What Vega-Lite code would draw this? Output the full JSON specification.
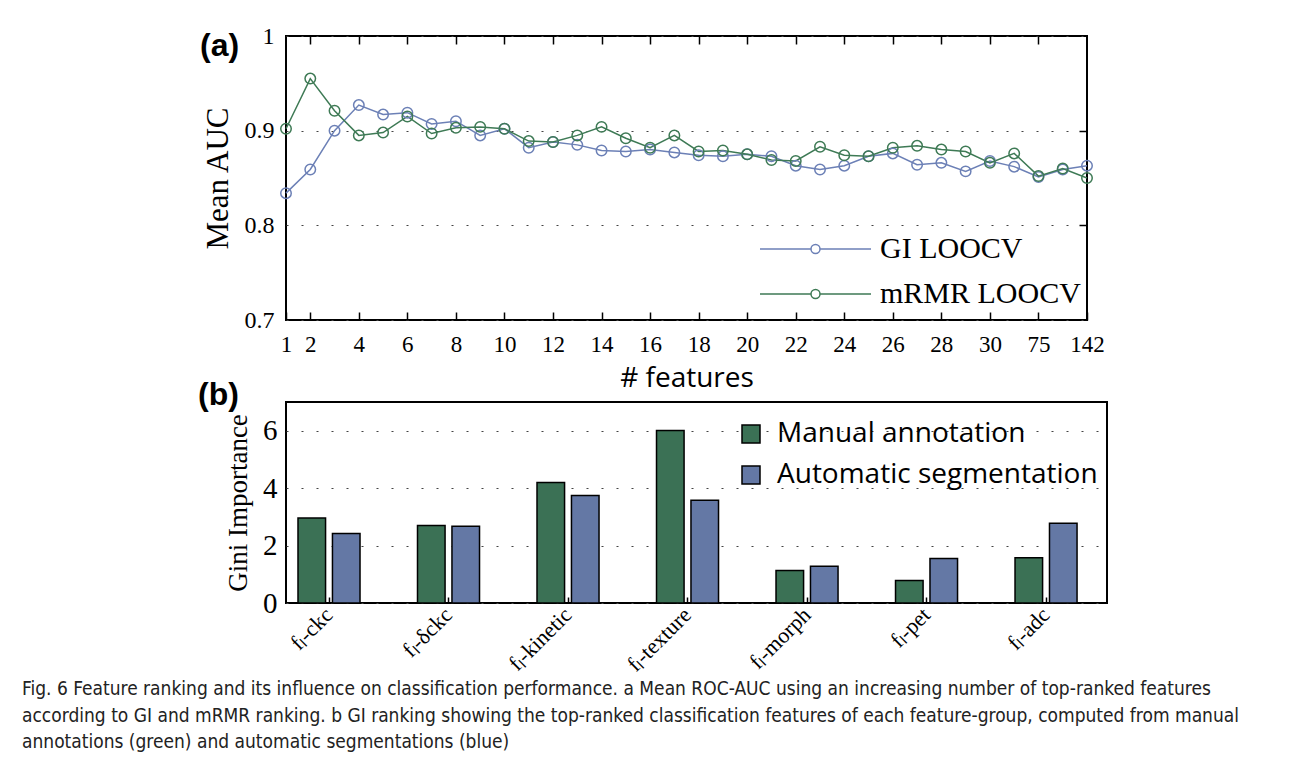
{
  "$schema": "https://vega.github.io/schema/vega-lite/v6.json",
  "background": "white",
  "padding": {"left": 22, "top": 23, "right": 10, "bottom": 10},
  "columns": 1,
  "align": "none",
  "spacing": -15,
  "resolve": {"scale": {"color": "independent"}, "legend": {"color": "independent"}},
  "title": {
    "text": [
      "Fig. 6 Feature ranking and its influence on classification performance. a Mean ROC-AUC using an increasing number of top-ranked features",
      "according to GI and mRMR ranking. b GI ranking showing the top-ranked classification features of each feature-group, computed from manual",
      "annotations (green) and automatic segmentations (blue)"
    ],
    "orient": "bottom",
    "anchor": "start",
    "frame": "bounds",
    "dx": -175,
    "offset": 4,
    "font": "DejaVu Sans Condensed, sans-serif",
    "fontSize": 19,
    "fontWeight": "normal",
    "lineHeight": 26.5,
    "color": "#222222"
  },
  "datasets": {
    "auc": [
      {"idx": 1, "method": "GI LOOCV", "auc": 0.834},
      {"idx": 2, "method": "GI LOOCV", "auc": 0.859},
      {"idx": 3, "method": "GI LOOCV", "auc": 0.900},
      {"idx": 4, "method": "GI LOOCV", "auc": 0.927},
      {"idx": 5, "method": "GI LOOCV", "auc": 0.917},
      {"idx": 6, "method": "GI LOOCV", "auc": 0.919},
      {"idx": 7, "method": "GI LOOCV", "auc": 0.907},
      {"idx": 8, "method": "GI LOOCV", "auc": 0.910},
      {"idx": 9, "method": "GI LOOCV", "auc": 0.895},
      {"idx": 10, "method": "GI LOOCV", "auc": 0.902},
      {"idx": 11, "method": "GI LOOCV", "auc": 0.882},
      {"idx": 12, "method": "GI LOOCV", "auc": 0.888},
      {"idx": 13, "method": "GI LOOCV", "auc": 0.885},
      {"idx": 14, "method": "GI LOOCV", "auc": 0.879},
      {"idx": 15, "method": "GI LOOCV", "auc": 0.878},
      {"idx": 16, "method": "GI LOOCV", "auc": 0.880},
      {"idx": 17, "method": "GI LOOCV", "auc": 0.877},
      {"idx": 18, "method": "GI LOOCV", "auc": 0.874},
      {"idx": 19, "method": "GI LOOCV", "auc": 0.873},
      {"idx": 20, "method": "GI LOOCV", "auc": 0.875},
      {"idx": 21, "method": "GI LOOCV", "auc": 0.873},
      {"idx": 22, "method": "GI LOOCV", "auc": 0.863},
      {"idx": 23, "method": "GI LOOCV", "auc": 0.859},
      {"idx": 24, "method": "GI LOOCV", "auc": 0.863},
      {"idx": 25, "method": "GI LOOCV", "auc": 0.873},
      {"idx": 26, "method": "GI LOOCV", "auc": 0.876},
      {"idx": 27, "method": "GI LOOCV", "auc": 0.864},
      {"idx": 28, "method": "GI LOOCV", "auc": 0.866},
      {"idx": 29, "method": "GI LOOCV", "auc": 0.857},
      {"idx": 30, "method": "GI LOOCV", "auc": 0.868},
      {"idx": 31, "method": "GI LOOCV", "auc": 0.862},
      {"idx": 32, "method": "GI LOOCV", "auc": 0.851},
      {"idx": 33, "method": "GI LOOCV", "auc": 0.859},
      {"idx": 34, "method": "GI LOOCV", "auc": 0.863},
      {"idx": 1, "method": "mRMR LOOCV", "auc": 0.902},
      {"idx": 2, "method": "mRMR LOOCV", "auc": 0.955},
      {"idx": 3, "method": "mRMR LOOCV", "auc": 0.921},
      {"idx": 4, "method": "mRMR LOOCV", "auc": 0.895},
      {"idx": 5, "method": "mRMR LOOCV", "auc": 0.898},
      {"idx": 6, "method": "mRMR LOOCV", "auc": 0.915},
      {"idx": 7, "method": "mRMR LOOCV", "auc": 0.897},
      {"idx": 8, "method": "mRMR LOOCV", "auc": 0.903},
      {"idx": 9, "method": "mRMR LOOCV", "auc": 0.904},
      {"idx": 10, "method": "mRMR LOOCV", "auc": 0.902},
      {"idx": 11, "method": "mRMR LOOCV", "auc": 0.889},
      {"idx": 12, "method": "mRMR LOOCV", "auc": 0.888},
      {"idx": 13, "method": "mRMR LOOCV", "auc": 0.895},
      {"idx": 14, "method": "mRMR LOOCV", "auc": 0.904},
      {"idx": 15, "method": "mRMR LOOCV", "auc": 0.892},
      {"idx": 16, "method": "mRMR LOOCV", "auc": 0.882},
      {"idx": 17, "method": "mRMR LOOCV", "auc": 0.895},
      {"idx": 18, "method": "mRMR LOOCV", "auc": 0.878},
      {"idx": 19, "method": "mRMR LOOCV", "auc": 0.879},
      {"idx": 20, "method": "mRMR LOOCV", "auc": 0.875},
      {"idx": 21, "method": "mRMR LOOCV", "auc": 0.869},
      {"idx": 22, "method": "mRMR LOOCV", "auc": 0.868},
      {"idx": 23, "method": "mRMR LOOCV", "auc": 0.883},
      {"idx": 24, "method": "mRMR LOOCV", "auc": 0.874},
      {"idx": 25, "method": "mRMR LOOCV", "auc": 0.873},
      {"idx": 26, "method": "mRMR LOOCV", "auc": 0.882},
      {"idx": 27, "method": "mRMR LOOCV", "auc": 0.884},
      {"idx": 28, "method": "mRMR LOOCV", "auc": 0.880},
      {"idx": 29, "method": "mRMR LOOCV", "auc": 0.878},
      {"idx": 30, "method": "mRMR LOOCV", "auc": 0.866},
      {"idx": 31, "method": "mRMR LOOCV", "auc": 0.876},
      {"idx": 32, "method": "mRMR LOOCV", "auc": 0.852},
      {"idx": 33, "method": "mRMR LOOCV", "auc": 0.860},
      {"idx": 34, "method": "mRMR LOOCV", "auc": 0.850}
    ],
    "gini": [
      {"feature": "fₗ-ckc", "source": "Manual annotation", "value": 2.96},
      {"feature": "fₗ-ckc", "source": "Automatic segmentation", "value": 2.42},
      {"feature": "fₗ-δckc", "source": "Manual annotation", "value": 2.70},
      {"feature": "fₗ-δckc", "source": "Automatic segmentation", "value": 2.67},
      {"feature": "fₗ-kinetic", "source": "Manual annotation", "value": 4.20},
      {"feature": "fₗ-kinetic", "source": "Automatic segmentation", "value": 3.74},
      {"feature": "fₗ-texture", "source": "Manual annotation", "value": 6.01},
      {"feature": "fₗ-texture", "source": "Automatic segmentation", "value": 3.58},
      {"feature": "fₗ-morph", "source": "Manual annotation", "value": 1.13},
      {"feature": "fₗ-morph", "source": "Automatic segmentation", "value": 1.28},
      {"feature": "fₗ-pet", "source": "Manual annotation", "value": 0.78},
      {"feature": "fₗ-pet", "source": "Automatic segmentation", "value": 1.55},
      {"feature": "fₗ-adc", "source": "Manual annotation", "value": 1.58},
      {"feature": "fₗ-adc", "source": "Automatic segmentation", "value": 2.78}
    ]
  },
  "config": {
    "view": {"stroke": "black", "strokeWidth": 2},
    "axis": {
      "labelColor": "black",
      "tickColor": "black",
      "titleColor": "black",
      "labelFont": "Liberation Serif",
      "titleFont": "Liberation Serif",
      "titleFontWeight": "normal",
      "gridColor": "#444444",
      "gridDash": [2, 13],
      "gridWidth": 1.2,
      "tickWidth": 1.5,
      "domain": false,
      "labelFlush": false,
      "labelOverlap": false
    },
    "legend": {"labelColor": "black", "padding": 0, "labelLimit": 0}
  },
  "concat": [
    {
      "width": 801,
      "height": 284,
      "title": {"text": "(a)", "anchor": "start", "frame": "group", "dx": -86, "dy": 39, "offset": 0, "font": "Liberation Sans", "fontWeight": "bold", "fontSize": 32, "color": "black"},
      "data": {"name": "auc"},
      "layer": [
        {
          "mark": {"type": "line", "strokeWidth": 1.5},
          "encoding": {
            "x": {
              "field": "idx", "type": "quantitative",
              "scale": {"domain": [1, 34], "nice": false, "zero": false},
              "axis": {
                "orient": "bottom",
                "values": [1, 2, 4, 6, 8, 10, 12, 14, 16, 18, 20, 22, 24, 26, 28, 30, 32, 34],
                "labelExpr": "datum.value == 32 ? '75' : datum.value == 34 ? '142' : datum.label",
                "labelFontSize": 23,
                "tickSize": -8,
                "labelPadding": 21,
                "grid": false,
                "title": "# features",
                "titleFont": "Open Sans",
                "titleFontSize": 28,
                "titlePadding": 8
              }
            },
            "y": {
              "field": "auc", "type": "quantitative",
              "scale": {"domain": [0.7, 1.0], "nice": false, "zero": false},
              "axis": {
                "orient": "left",
                "values": [0.7, 0.8, 0.9, 1.0],
                "format": "~g",
                "labelFontSize": 24,
                "ticks": false,
                "labelPadding": 12,
                "grid": true,
                "title": "Mean AUC",
                "titleFontSize": 31,
                "titlePadding": 10
              }
            },
            "color": {
              "field": "method", "type": "nominal",
              "scale": {"domain": ["GI LOOCV", "mRMR LOOCV"], "range": ["#6c80b6", "#3e7a55"]},
              "legend": {
                "orient": "none",
                "legendX": 560,
                "legendY": 198,
                "title": null,
                "labelFont": "Liberation Serif",
                "labelFontSize": 30,
                "symbolType": "M-10.1,0H-5M-4.1,0H1M-4.1,0A0.45,0.45,0,1,1,-5,0A0.45,0.45,0,1,1,-4.1,0",
                "symbolSize": 400,
                "symbolStrokeWidth": 1.5,
                "symbolFillColor": "transparent",
                "labelOffset": 4,
                "rowPadding": 15
              }
            }
          }
        },
        {
          "mark": {"type": "point", "filled": false, "size": 110, "strokeWidth": 1.5, "opacity": 1},
          "encoding": {
            "x": {
              "field": "idx", "type": "quantitative",
              "axis": {
                "orient": "top",
                "values": [2, 4, 6, 8, 10, 12, 14, 16, 18, 20, 22, 24, 26, 28, 30, 32],
                "labels": false,
                "tickSize": -8,
                "grid": false,
                "title": null
              }
            },
            "y": {
              "field": "auc", "type": "quantitative",
              "axis": {
                "orient": "right",
                "values": [0.8, 0.9],
                "labels": false,
                "tickSize": -8,
                "grid": false,
                "title": null
              }
            },
            "color": {"field": "method", "type": "nominal", "legend": null}
          }
        }
      ],
      "resolve": {"axis": {"x": "independent", "y": "independent"}}
    },
    {
      "width": 821,
      "height": 201,
      "title": {"text": "(b)", "anchor": "start", "frame": "group", "dx": -88, "dy": 10, "offset": 0, "font": "Liberation Sans", "fontWeight": "bold", "fontSize": 32, "color": "black"},
      "data": {"name": "gini"},
      "mark": {"type": "bar", "stroke": "black", "strokeWidth": 1.5},
      "encoding": {
        "x": {
          "field": "feature", "type": "nominal",
          "sort": ["fₗ-ckc", "fₗ-δckc", "fₗ-kinetic", "fₗ-texture", "fₗ-morph", "fₗ-pet", "fₗ-adc"],
          "scale": {"paddingInner": 0.481, "paddingOuter": 0.1755, "align": 0.286},
          "axis": {
            "orient": "bottom",
            "labelAngle": -45,
            "labelAlign": "right",
            "labelBaseline": "middle",
            "labelFontSize": 22,
            "tickSize": -6,
            "labelPadding": 14,
            "grid": false,
            "title": null
          }
        },
        "xOffset": {
          "field": "source", "type": "nominal",
          "sort": ["Manual annotation", "Automatic segmentation"],
          "scale": {"paddingInner": 0.2, "paddingOuter": 0}
        },
        "y": {
          "field": "value", "type": "quantitative",
          "scale": {"domain": [0, 7], "nice": false},
          "axis": {
            "orient": "left",
            "values": [0, 2, 4, 6],
            "labelFontSize": 29,
            "ticks": false,
            "labelPadding": 9,
            "grid": true,
            "title": "Gini Importance",
            "titleFontSize": 27,
            "titlePadding": 10
          }
        },
        "color": {
          "field": "source", "type": "nominal",
          "sort": ["Manual annotation", "Automatic segmentation"],
          "scale": {"domain": ["Manual annotation", "Automatic segmentation"], "range": ["#3b7155", "#6478a5"]},
          "legend": {
            "orient": "none",
            "legendX": 451,
            "legendY": 18,
            "title": null,
            "labelFont": "Open Sans",
            "labelFontSize": 28,
            "symbolType": "square",
            "symbolSize": 324,
            "symbolStrokeColor": "black",
            "symbolStrokeWidth": 1.5,
            "symbolOpacity": 1,
            "labelOffset": 12,
            "rowPadding": 13
          }
        }
      }
    }
  ]
}
